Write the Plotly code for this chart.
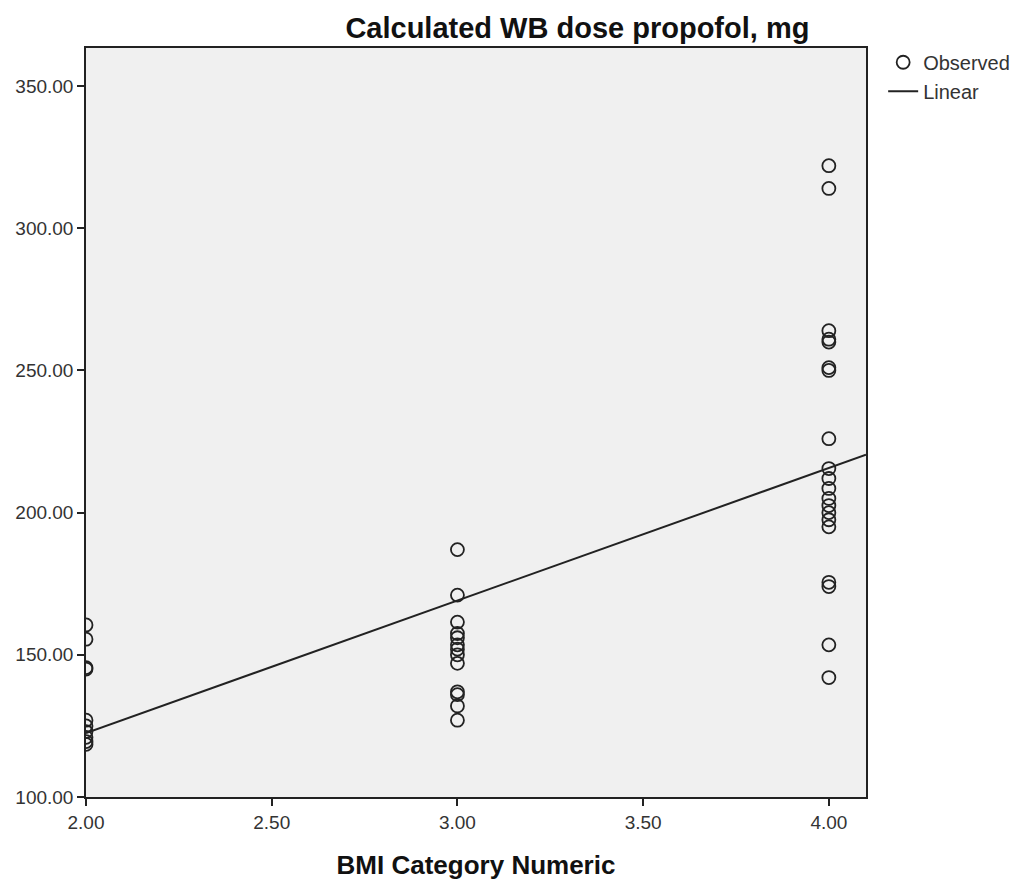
import numpy as np
import plotly.graph_objects as go

# BMI category (numeric) and the calculated whole-body propofol dose, mg
bmi_2_dose = [160.5, 155.5, 145.5, 145.0, 127.0, 125.0, 123.0, 121.0, 119.5, 118.5]
bmi_3_dose = [187.0, 171.0, 161.5, 157.5, 156.0, 153.5, 152.0, 150.0, 147.0,
              137.0, 136.0, 132.0, 127.0]
bmi_4_dose = [322.0, 314.0, 264.0, 261.0, 260.0, 251.0, 250.0, 226.0, 215.5,
              212.0, 208.5, 205.0, 202.5, 200.0, 197.5, 195.0, 175.5, 174.0,
              153.5, 142.0]

x_ticks = [2.0, 2.5, 3.0, 3.5, 4.0]
y_ticks = [100, 150, 200, 250, 300, 350]

bmi = np.array([2.0] * len(bmi_2_dose) + [3.0] * len(bmi_3_dose) + [4.0] * len(bmi_4_dose))
dose = np.array(bmi_2_dose + bmi_3_dose + bmi_4_dose)

# ordinary least-squares line through all observations
slope, intercept = np.polyfit(bmi, dose, 1)
x_fit = np.array([2.0, 4.1])
y_fit = intercept + slope * x_fit

ink = "#222222"

fig = go.Figure()
fig.add_trace(go.Scatter(
    x=bmi, y=dose, mode="markers", name="Observed",
    marker=dict(symbol="circle-open", size=13, color=ink, line=dict(width=1.8, color=ink)),
    cliponaxis=True,
))
fig.add_trace(go.Scatter(
    x=x_fit, y=y_fit, mode="lines", name="Linear",
    line=dict(color=ink, width=2),
))

fig.update_layout(
    width=1021, height=886,
    margin=dict(l=86, r=155, t=48, b=89, autoexpand=False),
    paper_bgcolor="white",
    plot_bgcolor="#f0f0f0",
    font=dict(family="Liberation Sans, Arial, sans-serif", color="#333333", size=16),
    title=dict(
        text="<b>Calculated WB dose propofol, mg</b>",
        x=0.63, xanchor="center", xref="paper",
        y=0.969, yanchor="middle",
        font=dict(size=29, color="#111111"),
    ),
    showlegend=True,
    legend=dict(
        x=1.022, y=1.007, xanchor="left", yanchor="top",
        font=dict(size=20, color="#333333"),
        bgcolor="rgba(0,0,0,0)", itemwidth=30, tracegroupgap=0,
    ),
)

fig.update_xaxes(
    range=[2.0, 4.1],
    tickvals=x_ticks, tickformat=".2f",
    ticks="outside", ticklen=7, tickwidth=1.5, tickcolor=ink,
    showline=True, linecolor=ink, linewidth=1.5, mirror=True,
    showgrid=False, zeroline=False,
    tickfont=dict(size=19, color="#333333"),
    title=dict(text="<b>BMI Category Numeric</b>", font=dict(size=26, color="#111111"), standoff=24),
)
fig.update_yaxes(
    range=[100, 363.4],
    tickvals=y_ticks, tickformat=".2f",
    ticks="outside", ticklen=7, tickwidth=1.5, tickcolor=ink,
    showline=True, linecolor=ink, linewidth=1.5, mirror=True,
    showgrid=False, zeroline=False,
    tickfont=dict(size=19, color="#333333"),
)

fig.write_html("out.html")
